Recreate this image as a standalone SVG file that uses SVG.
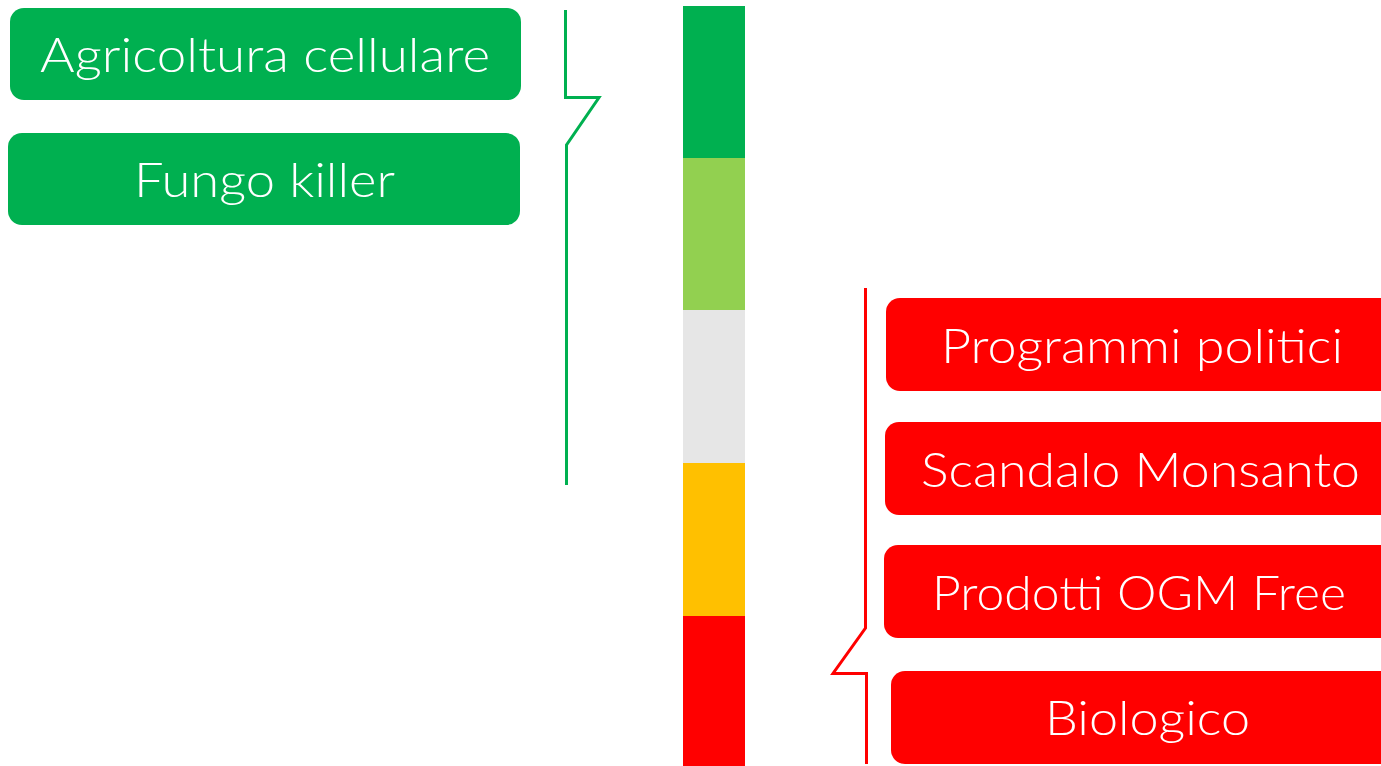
<svg xmlns="http://www.w3.org/2000/svg" width="1381" height="766" viewBox="0 0 1381 766">
<style>
.g{fill:#00B050}
.r{fill:#FF0000}
.t{font-family:"Lato","Open Sans","Liberation Sans",sans-serif;font-weight:300;font-size:48px;fill:#FFFFFF;text-anchor:middle}
.br{fill:none;stroke-width:3}
</style>
<rect width="1381" height="766" fill="#FFFFFF"/>
<g id="scale">
<rect x="683" y="6" width="62" height="152" fill="#00B050"/>
<rect x="683" y="158" width="62" height="152" fill="#92D050"/>
<rect x="683" y="310" width="62" height="153" fill="#E6E6E6"/>
<rect x="683" y="463" width="62" height="153" fill="#FFC000"/>
<rect x="683" y="616" width="62" height="150" fill="#FF0000"/>
</g>
<g id="connectors">
<path class="br" stroke="#00B050" d="M565.5,10 V97.5 H599 L566.5,145 V485"/>
<path class="br" stroke="#FF0000" d="M865.5,288 V628 L833,673.5 H866.5 V764"/>
</g>
<g id="n1"><rect class="g" x="10" y="8" width="511" height="92" rx="14"/><text class="t" x="265" y="72" textLength="450" lengthAdjust="spacingAndGlyphs">Agricoltura cellulare</text></g>
<g id="n2"><rect class="g" x="8" y="133" width="512" height="92" rx="14"/><text class="t" x="264.5" y="197" textLength="261" lengthAdjust="spacingAndGlyphs">Fungo killer</text></g>
<g id="n3"><rect class="r" x="886" y="298" width="511" height="93" rx="14"/><text class="t" x="1142" y="363" textLength="402" lengthAdjust="spacingAndGlyphs">Programmi politici</text></g>
<g id="n4"><rect class="r" x="885" y="422" width="511" height="93" rx="14"/><text class="t" x="1140.5" y="487" textLength="439" lengthAdjust="spacingAndGlyphs">Scandalo Monsanto</text></g>
<g id="n5"><rect class="r" x="884" y="545" width="511" height="93" rx="14"/><text class="t" x="1139" y="610" textLength="414" lengthAdjust="spacingAndGlyphs">Prodotti OGM Free</text></g>
<g id="n6"><rect class="r" x="891" y="671" width="511" height="93" rx="14"/><text class="t" x="1147.5" y="735" textLength="205" lengthAdjust="spacingAndGlyphs">Biologico</text></g>
</svg>
